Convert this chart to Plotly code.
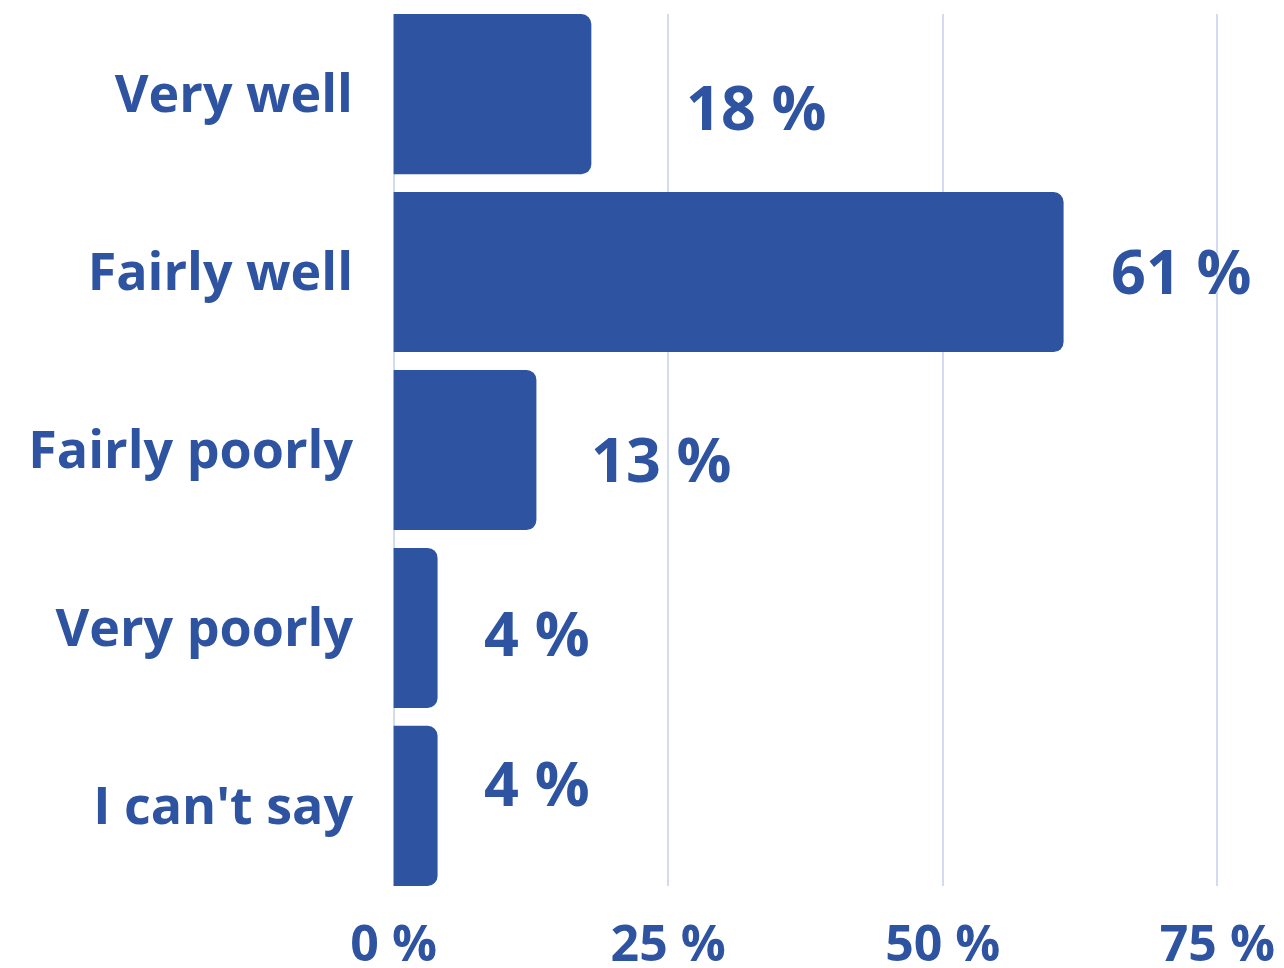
import plotly.graph_objects as go

categories = ["Very well", "Fairly well", "Fairly poorly", "Very poorly", "I can't say"]
values = [18, 61, 13, 4, 4]
value_labels = ["18 %", "61 %", "13 %", "4 %", "4 %"]
tick_vals = [0, 25, 50, 75]
tick_text = ["0 %", "25 %", "50 %", "75 %"]

# label offsets (px) from bar end, as drawn in the reference
label_xshift = [93, 45, 53, 44, 44]
label_yshift = [-12, 2, -8, -5, 23]

BLUE = "#2E53A0"
GRID = "#D2DBEF"
FONT = "Open Sans"

fig = go.Figure()
fig.add_trace(go.Bar(
    x=values,
    y=categories,
    orientation="h",
    marker=dict(color=BLUE, line=dict(width=0)),
    width=0.9,
    hoverinfo="skip",
))

for c, v, t, dx, dy in zip(categories, values, value_labels, label_xshift, label_yshift):
    fig.add_annotation(
        x=v, y=c, text=t, showarrow=False,
        xanchor="left", yanchor="middle",
        xshift=dx, yshift=dy,
        font=dict(family=FONT, size=61, color=BLUE, weight="bold"),
    )

# page body has an 8px margin, so the figure is sized to fit the window
fig.update_layout(
    width=1268, height=960,
    margin=dict(l=384, r=57, t=6, b=82),
    paper_bgcolor="white",
    plot_bgcolor="white",
    showlegend=False,
    barcornerradius=10,
    xaxis=dict(
        range=[-0.15, 75.15],
        tickvals=tick_vals,
        ticktext=tick_text,
        showgrid=True,
        gridcolor=GRID,
        gridwidth=2,
        zeroline=False,
        showline=False,
        ticks="",
        automargin=False,
        ticklabelstandoff=24,
        tickfont=dict(family=FONT, size=50, color=BLUE, weight="bold"),
    ),
    yaxis=dict(
        categoryorder="array",
        categoryarray=categories,
        range=[4.45, -0.45],
        showgrid=False,
        zeroline=False,
        showline=False,
        ticks="",
        automargin=False,
        ticklabelstandoff=38,
        tickfont=dict(family=FONT, size=52, color=BLUE, weight="bold"),
    ),
)

fig.write_html("out.html")
